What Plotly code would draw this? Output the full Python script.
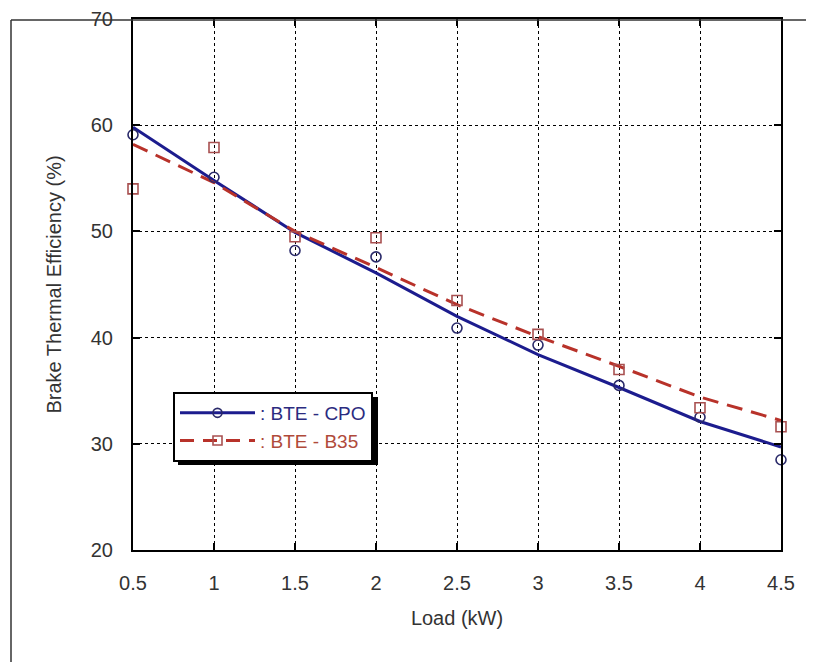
import plotly.graph_objects as go

# Measured data points
load = [0.5, 1.0, 1.5, 2.0, 2.5, 3.0, 3.5, 4.0, 4.5]
bte_cpo = [59.1, 55.1, 48.2, 47.6, 40.9, 39.3, 35.5, 32.5, 28.5]
bte_b35 = [54.0, 57.9, 49.5, 49.4, 43.5, 40.3, 37.0, 33.4, 31.6]

# Fitted curves
fit_cpo = [59.8, 54.8, 49.9, 46.1, 42.0, 38.4, 35.3, 32.1, 29.7]
fit_b35 = [58.2, 54.6, 50.0, 46.6, 43.1, 40.1, 37.3, 34.4, 32.2]

x_ticks = [0.5, 1, 1.5, 2, 2.5, 3, 3.5, 4, 4.5]
x_ticktext = ["0.5", "1", "1.5", "2", "2.5", "3", "3.5", "4", "4.5"]
y_ticks = [20, 30, 40, 50, 60, 70]

c_cpo = "#1c1c8e"
c_cpo_mk = "#2a2a6a"
c_b35 = "#b8322a"
c_b35_mk = "#a85050"
b35_dash = "16px,9px"

fig = go.Figure()
fig.add_trace(go.Scatter(x=load, y=fit_cpo, mode="lines", line=dict(color=c_cpo, width=3),
                         showlegend=False, cliponaxis=False))
fig.add_trace(go.Scatter(x=load, y=fit_b35, mode="lines", line=dict(color=c_b35, width=3, dash=b35_dash),
                         showlegend=False, cliponaxis=False))
fig.add_trace(go.Scatter(x=load, y=bte_cpo, mode="markers",
                         marker=dict(symbol="circle-open", size=10, color=c_cpo_mk, line=dict(width=1.6)),
                         showlegend=False, cliponaxis=False))
fig.add_trace(go.Scatter(x=load, y=bte_b35, mode="markers",
                         marker=dict(symbol="square-open", size=10, color=c_b35_mk, line=dict(width=1.6)),
                         showlegend=False, cliponaxis=False))
fig.add_trace(go.Scatter(x=[None], y=[None], mode="lines+markers",
                         line=dict(color=c_cpo, width=3),
                         marker=dict(symbol="circle-open", size=9, color=c_cpo_mk, line=dict(width=1.6)),
                         name='<span style="color:#2b2b80">: BTE - CPO</span>'))
fig.add_trace(go.Scatter(x=[None], y=[None], mode="lines+markers",
                         line=dict(color=c_b35, width=3, dash="14px,9px"),
                         marker=dict(symbol="square-open", size=9, color=c_b35_mk, line=dict(width=1.6)),
                         name='<span style="color:#b04a3a">: BTE - B35</span>'))

OFF = 8  # default page body margin
W, H = 806, 654
L, T = 133 - OFF, 19 - OFF
PR, PB = 781 - OFF, 550 - OFF
R, B = W - PR, H - PB
pw, ph = PR - L, PB - T

def px2paper(px, py):
    return (px - OFF - L) / pw, (PB - (py - OFF)) / ph

shapes = []
sx0, sy0 = px2paper(178, 397)
sx1, sy1 = px2paper(378, 465)
shapes.append(dict(type="rect", xref="paper", yref="paper", x0=sx0, x1=sx1, y0=sy1, y1=sy0,
                   fillcolor="black", line=dict(width=0), layer="above"))
fx0, fy0 = px2paper(11, 20)
fx1, fy1 = px2paper(830, 680)
shapes.append(dict(type="line", xref="paper", yref="paper", x0=fx0, x1=fx0, y0=fy0, y1=fy1,
                   line=dict(color="#333", width=1.5)))
shapes.append(dict(type="line", xref="paper", yref="paper", x0=fx0, x1=fx1, y0=fy0, y1=fy0,
                   line=dict(color="#333", width=1.5)))

lx, ly = px2paper(173, 392)

fig.update_layout(
    width=W, height=H,
    margin=dict(l=L, r=R, t=T, b=B, pad=0, autoexpand=False),
    paper_bgcolor="white", plot_bgcolor="white",
    font=dict(family="Liberation Sans, Arial, sans-serif", size=20, color="#333"),
    shapes=shapes,
    showlegend=True,
    legend=dict(x=lx, y=ly, xanchor="left", yanchor="top", bgcolor="white",
                bordercolor="black", borderwidth=2, font=dict(size=19),
                tracegroupgap=0, itemwidth=75),
    xaxis=dict(range=[0.5, 4.5], tickvals=x_ticks, ticktext=x_ticktext, automargin=False,
               showgrid=True, gridcolor="black", griddash="dot", gridwidth=1.2,
               showline=True, linecolor="black", linewidth=2, mirror="ticks",
               ticks="inside", ticklen=7, tickcolor="black", tickwidth=1.5,
               ticklabelstandoff=14,
               zeroline=False, tickfont=dict(size=20, color="#333"),
               title=dict(text="Load (kW)", font=dict(size=20, color="#333"), standoff=18)),
    yaxis=dict(range=[20, 70], tickvals=y_ticks, automargin=False,
               showgrid=True, gridcolor="black", griddash="dot", gridwidth=1.2,
               showline=True, linecolor="black", linewidth=2, mirror="ticks",
               ticks="inside", ticklen=7, tickcolor="black", tickwidth=1.5,
               ticklabelstandoff=14,
               zeroline=False, tickfont=dict(size=20, color="#333"),
               title=dict(text="Brake Thermal Efficiency (%)", font=dict(size=20, color="#333"), standoff=24)),
)

fig.write_html("out.html")
